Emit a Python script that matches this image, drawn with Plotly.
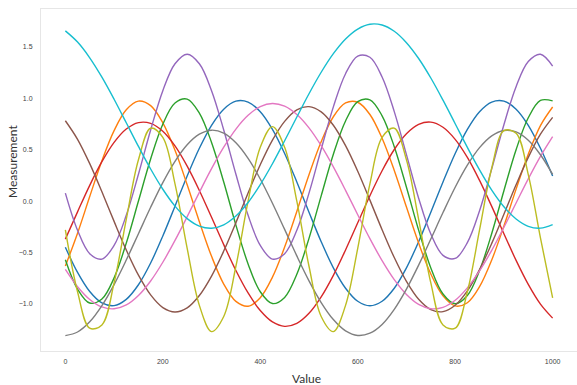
import plotly.graph_objects as go

x_values = list(range(0, 1001, 25))

blue = [-0.450, -0.695, -0.881, -0.992, -1.018, -0.957, -0.815, -0.603, -0.340, -0.050,
        0.244, 0.514, 0.738, 0.895, 0.973, 0.964, 0.870, 0.698, 0.463, 0.186,
        -0.109, -0.396, -0.650, -0.849, -0.976, -1.020, -0.976, -0.849, -0.650, -0.396,
        -0.109, 0.186, 0.463, 0.698, 0.870, 0.964, 0.973, 0.895, 0.738, 0.514, 0.244]
orange = [-0.633, -0.313, 0.044, 0.392, 0.686, 0.889, 0.973, 0.929, 0.762, 0.494,
          0.158, -0.201, -0.538, -0.808, -0.977, -1.024, -0.941, -0.741, -0.448, -0.101,
          0.257, 0.578, 0.821, 0.955, 0.962, 0.843, 0.611, 0.298, -0.058, -0.409,
          -0.710, -0.923, -1.021, -0.990, -0.834, -0.574, -0.243, 0.116, 0.456, 0.735, 0.916]
green = [-0.571, -0.857, -0.993, -0.954, -0.748, -0.410, 0.000, 0.410, 0.748, 0.954,
         0.993, 0.857, 0.571, 0.185, -0.234, -0.612, -0.883, -0.998, -0.938, -0.713,
         -0.363, 0.051, 0.456, 0.780, 0.968, 0.986, 0.830, 0.529, 0.135, -0.283,
         -0.651, -0.905, -1.000, -0.919, -0.677, -0.316, 0.101, 0.500, 0.811, 0.980, 0.976]
red = [-0.371, -0.105, 0.153, 0.383, 0.571, 0.701, 0.764, 0.757, 0.680, 0.537,
       0.340, 0.103, -0.158, -0.424, -0.676, -0.895, -1.066, -1.177, -1.220, -1.191,
       -1.093, -0.933, -0.723, -0.476, -0.212, 0.052, 0.295, 0.502, 0.656, 0.747,
       0.769, 0.719, 0.601, 0.425, 0.201, -0.052, -0.318, -0.578, -0.812, -1.004, -1.140]
purple = [0.077, -0.285, -0.513, -0.565, -0.432, -0.139, 0.261, 0.692, 1.075, 1.337,
          1.430, 1.337, 1.075, 0.692, 0.261, -0.139, -0.432, -0.565, -0.513, -0.285,
          0.077, 0.504, 0.917, 1.240, 1.412, 1.400, 1.208, 0.871, 0.452, 0.028,
          -0.321, -0.529, -0.559, -0.405, -0.095, 0.313, 0.743, 1.114, 1.358, 1.429, 1.313]
brown = [0.782, 0.601, 0.364, 0.090, -0.198, -0.477, -0.722, -0.914, -1.037, -1.080,
         -1.040, -0.920, -0.731, -0.487, -0.210, 0.079, 0.354, 0.593, 0.776, 0.888,
         0.919, 0.868, 0.738, 0.539, 0.290, 0.009, -0.279, -0.550, -0.782, -0.956,
         -1.057, -1.077, -1.014, -0.874, -0.667, -0.412, -0.129, 0.158, 0.425, 0.651, 0.815]
pink = [-0.666, -0.834, -0.958, -1.031, -1.049, -1.011, -0.919, -0.778, -0.596, -0.383,
        -0.152, 0.085, 0.315, 0.524, 0.701, 0.835, 0.920, 0.950, 0.924, 0.843,
        0.713, 0.539, 0.332, 0.104, -0.133, -0.366, -0.580, -0.765, -0.909, -1.006,
        -1.048, -1.035, -0.966, -0.845, -0.680, -0.480, -0.255, -0.019, 0.216, 0.435, 0.627]
gray = [-1.310, -1.275, -1.176, -1.018, -0.813, -0.574, -0.318, -0.061, 0.180, 0.387,
        0.548, 0.651, 0.690, 0.662, 0.568, 0.416, 0.215, -0.021, -0.276, -0.534,
        -0.777, -0.988, -1.154, -1.264, -1.309, -1.287, -1.201, -1.054, -0.857, -0.624,
        -0.370, -0.112, 0.134, 0.349, 0.520, 0.635, 0.687, 0.673, 0.592, 0.451, 0.259]
olive = [-0.281, -0.883, -1.238, -1.206, -0.797, -0.178, 0.402, 0.709, 0.619, 0.168,
         -0.461, -1.016, -1.271, -1.124, -0.635, -0.001, 0.523, 0.725, 0.523, -0.001,
         -0.635, -1.124, -1.271, -1.016, -0.461, 0.168, 0.619, 0.709, 0.402, -0.178,
         -0.797, -1.206, -1.238, -0.883, -0.281, 0.322, 0.685, 0.660, 0.258, -0.359, -0.942]
cyan = [1.657, 1.548, 1.395, 1.206, 0.991, 0.762, 0.532, 0.312, 0.115, -0.049,
        -0.171, -0.244, -0.265, -0.231, -0.146, -0.014, 0.160, 0.363, 0.587, 0.818,
        1.045, 1.254, 1.435, 1.578, 1.675, 1.722, 1.714, 1.653, 1.542, 1.388,
        1.198, 0.982, 0.753, 0.523, 0.304, 0.107, -0.055, -0.175, -0.246, -0.264, -0.229]

series = [
    ("blue", blue, "#1f77b4"),
    ("orange", orange, "#ff7f0e"),
    ("green", green, "#2ca02c"),
    ("red", red, "#d62728"),
    ("purple", purple, "#9467bd"),
    ("brown", brown, "#8c564b"),
    ("pink", pink, "#e377c2"),
    ("gray", gray, "#7f7f7f"),
    ("olive", olive, "#bcbd22"),
    ("cyan", cyan, "#17becf"),
]

x_ticks = [0, 200, 400, 600, 800, 1000]
y_ticks = [-1.0, -0.5, 0.0, 0.5, 1.0, 1.5]

fig = go.Figure()
for name, vals, color in series:
    fig.add_trace(go.Scatter(x=x_values, y=vals, mode="lines", name=name,
                             line=dict(color=color, width=1.4, shape="spline", smoothing=1.0),
                             showlegend=False, hoverinfo="skip"))

axis_common = dict(showgrid=False, zeroline=False, showline=True, mirror=True,
                   linecolor="#e6e6e6", linewidth=1, ticks="",
                   tickfont=dict(family="Liberation Sans, Arial, sans-serif", size=7, color="#444444"))

fig.update_layout(
    width=577, height=385,
    margin=dict(l=41, r=0, t=9, b=34),
    paper_bgcolor="white", plot_bgcolor="white",
    xaxis=dict(range=[-50, 1050], tickvals=x_ticks, ticktext=[str(v) for v in x_ticks],
               ticklabelstandoff=4, **axis_common),
    yaxis=dict(range=[-1.46, 1.87], tickvals=y_ticks,
               ticktext=[("\u2212" if v < 0 else "") + f"{abs(v):.1f}" for v in y_ticks],
               ticklabelstandoff=6, **axis_common),
    annotations=[
        dict(text="Measurement", xref="paper", yref="paper", x=-0.052, y=0.553,
             textangle=-90, showarrow=False, xanchor="center", yanchor="middle",
             font=dict(family="Lato, sans-serif", size=12, color="#333333")),
        dict(text="Value", xref="paper", yref="paper", x=0.496, y=-0.079,
             showarrow=False, xanchor="center", yanchor="middle",
             font=dict(family="Lato, sans-serif", size=12, color="#333333")),
    ],
)

fig.write_html("out.html", config={"displayModeBar": False, "staticPlot": True},
               post_script="document.body.style.margin='0';document.body.style.overflow='hidden';")
